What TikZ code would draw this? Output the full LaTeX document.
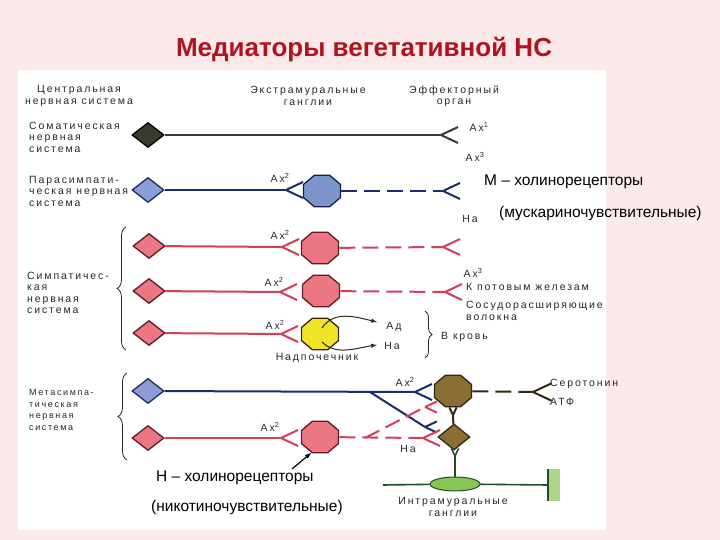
\documentclass[tikz,border=0pt]{standalone}
\usepackage{fontspec}
\setmainfont{Liberation Sans}
\newfontfamily\labfont[LetterSpace=18]{Liberation Sans}
\usepackage{xcolor}
\usetikzlibrary{shapes.geometric,decorations.pathreplacing,positioning}

\definecolor{pinkbg}{RGB}{252,234,234}
\definecolor{titred}{RGB}{176,18,30}
\definecolor{txt}{RGB}{40,40,40}
\definecolor{somc}{RGB}{58,58,46}
\definecolor{navyc}{RGB}{28,44,110}
\definecolor{bluec}{RGB}{140,156,212}
\definecolor{blueg}{RGB}{124,150,204}
\definecolor{redc}{RGB}{214,62,92}
\definecolor{pinkc}{RGB}{236,118,130}
\definecolor{redd}{RGB}{96,28,32}
\definecolor{yelc}{RGB}{240,228,40}
\definecolor{brownc}{RGB}{138,110,52}
\definecolor{brownd}{RGB}{52,38,20}
\definecolor{dgreen}{RGB}{30,80,40}
\definecolor{lgreen}{RGB}{136,196,86}

\begin{document}
\begin{tikzpicture}[x=1pt,y=-1pt,
	every node/.style={inner sep=0pt},
	lab/.style={font=\labfont\fontsize{10.5}{11.5}\selectfont, text=txt},
	big/.style={font=\fontsize{15.5}{18}\selectfont, text=black},
	cell/.style={diamond, line width=1.3pt, minimum width=32pt, minimum height=25pt},
	gang/.style={regular polygon, regular polygon sides=8, minimum size=34pt,
		xscale=1.18, transform shape, line width=1.3pt},
	bl/.style={color=somc, line width=2pt},
	nl/.style={color=navyc, line width=2pt},
	rl/.style={color=redc, line width=2pt},
	bk/.style={color=brownd, line width=2pt},
	gl/.style={color=dgreen, line width=1.6pt},
	dsh/.style={dash pattern=on 16pt off 7pt},
	brc/.style={decorate, decoration={brace, amplitude=9pt}, color=txt, line width=0.8pt},
	fork/.pic={\draw (0,0) -- (17,-8) (0,0) -- (17,8);}]

	\fill[pinkbg] (0,0) rectangle (720,540);
	\fill[white] (18,70) rectangle (606,530);
	\useasboundingbox (0,0) rectangle (720,540);

	\node[font=\bfseries\fontsize{26}{30}\selectfont, text=titred] (title) at (364,50) {Медиаторы вегетативной НС};

	% column heads
	\node[lab, align=center] (hc) at (79,96) {Центральная\\нервная система};
	\node[lab, align=center] (hg) at (308,96) {Экстрамуральные\\ганглии};
	\node[lab, align=center] (ho) at (454,96) {Эффекторный\\орган};

	% systems
	\node[lab, anchor=west, align=left] (ls) at (29,137) {Соматическая\\нервная\\система};
	\node[lab, anchor=west, align=left] (lp) at (29,191) {Парасимпати-\\ческая нервная\\система};
	\node[lab, anchor=west, align=left] (ly) at (27,293) {Симпатичес-\\кая\\нервная\\система};
	\node[lab, anchor=west, align=left, font=\labfont\fontsize{9}{11.5}\selectfont] (lm) at (29,410) {Метасимпа-\\тическая\\нервная\\система};
	\draw[brc] (126,350) -- (126,227);
	\draw[brc] (127,460) -- (127,373);

	\node[cell, fill=somc, draw=black] (cs) at (148,135) {};
	\node[cell, fill=bluec, draw=navyc] (cp) at (148,190) {};
	\node[cell, fill=pinkc, draw=redd] (c3) at (149,246) {};
	\node[cell, fill=pinkc, draw=redd] (c4) at (149,291) {};
	\node[cell, fill=pinkc, draw=redd] (c5) at (149,333) {};
	\node[cell, fill=bluec, draw=navyc] (c6) at (148,391) {};
	\node[cell, fill=pinkc, draw=redd] (c7) at (148,438) {};

	% ganglia
	\node[gang, fill=blueg, draw=navyc!70!black] (g2) at (322,191) {};
	\node[gang, fill=pinkc, draw=redd] (g3) at (320,248) {};
	\node[gang, fill=pinkc, draw=redd] (g4) at (321,291) {};
	\node[gang, fill=yelc, draw=brownd] (g5) at (320,334) {};
	\node[gang, fill=pinkc, draw=redd] (g7) at (320,437) {};
	\node[gang, fill=brownc, draw=brownd] (gm) at (453,391) {};
	\node[cell, fill=brownc, draw=brownd, minimum width=32pt, minimum height=26pt] (dm) at (454,437) {};
	\node[ellipse, fill=lgreen, draw=dgreen, line width=1pt, minimum width=50pt, minimum height=14pt] (im) at (455,484) {};
	\node[fill=lgreen!70, minimum width=12pt, minimum height=32pt] (ef) at (554,485) {};

	% fork points
	\coordinate (e1) at (441,135);
	\coordinate (a2) at (286,190);
	\coordinate (e2) at (443,191);
	\coordinate (a3) at (282,247);
	\coordinate (e3) at (443,247);
	\coordinate (a4) at (280,292);
	\coordinate (e4) at (445,292);
	\coordinate (a5) at (281,334);
	\coordinate (a6) at (415,392);
	\coordinate (b6) at (370,392);
	\coordinate (m6) at (425,427);
	\coordinate (a7) at (281,438);
	\coordinate (b7) at (365,438);
	\coordinate (e7) at (423,438);
	\coordinate (e8) at (425,407);
	\coordinate (em) at (533,392);
	\coordinate (y1) at (453,415);
	\coordinate (y2) at (455,456);
	\coordinate (il) at (383,485);
	\coordinate (ht) at (292,469);

	\draw[bl] (cs) -- (e1);
	\pic[bl] at (e1) {fork};

	\draw[nl] (cp) -- (a2);
	\pic[nl] at (a2) {fork};
	\draw[nl, dsh] (g2) -- (e2);
	\pic[nl] at (e2) {fork};

	\draw[rl] (c3) -- (a3);
	\pic[rl] at (a3) {fork};
	\draw[rl, dsh] (g3) -- (e3);
	\pic[rl] at (e3) {fork};

	\draw[rl] (c4) -- (a4);
	\pic[rl] at (a4) {fork};
	\draw[rl, dsh] (g4) -- (e4);
	\pic[rl] at (e4) {fork};

	\draw[rl] (c5) -- (a5);
	\pic[rl] at (a5) {fork};

	\draw[nl] (c6) -- (a6);
	\pic[nl] at (a6) {fork};
	\draw[nl] (b6) -- (m6);
	\pic[nl, scale=0.7] at (m6) {fork};

	\draw[rl] (c7) -- (a7);
	\pic[rl] at (a7) {fork};
	\draw[rl, dsh] (g7) -- (e7);
	\pic[rl] at (e7) {fork};
	\draw[rl, dsh] (b7) -- (e8);
	\pic[rl, scale=0.7] at (e8) {fork};

	\draw[bk, dsh] (gm) -- (em);
	\pic[bk, scale=1.1] at (em) {fork};
	\draw[bk] (y1) -- (dm);
	\pic[bk, rotate=90, scale=0.45] at (y1) {fork};
	\draw[gl] (im) -- (y2);
	\pic[gl, rotate=90, scale=0.45] at (y2) {fork};
	\draw[gl] (il) -- (im);
	\draw[gl] (im) -- (ef.west);
	\draw[dgreen, line width=2.4pt] (ef.north west) -- (ef.south west);

	% adrenal
	\draw[-latex, line width=1pt, brownd] (g5.center) ++(2,-6) .. controls (334,310) and (356,317) .. (377,322);
	\draw[-latex, line width=1pt, brownd] (g5.center) ++(2,8) .. controls (336,356) and (356,348) .. (377,345);
	\node[lab] (ad) at (394,327) {Ад};
	\node[lab] (na2) at (392,346) {На};
	\node[lab] (nad) at (317,358) {Надпочечник};
	\draw[brc, decoration={amplitude=7pt}] (425,311) -- (425,358);
	\node[lab, anchor=west] (vk) at (441,337) {В кровь};

	% labels
	\node[lab] (x1) at (479,127) {Ах\textsuperscript{1}};
	\node[lab] (x2) at (280,178) {Ах\textsuperscript{2}};
	\node[lab] (x3) at (475,157) {Ах\textsuperscript{3}};
	\node[lab] (na) at (470,219) {На};
	\node[lab] (x4) at (280,235) {Ах\textsuperscript{2}};
	\node[lab] (x5) at (274,282) {Ах\textsuperscript{2}};
	\node[lab] (x6) at (473,273) {Ах\textsuperscript{3}};
	\node[lab, anchor=west] (pot) at (466,287) {К потовым железам};
	\node[lab, anchor=west, align=left] (sos) at (466,311) {Сосудорасширяющие\\волокна};
	\node[lab] (x7) at (275,325) {Ах\textsuperscript{2}};
	\node[lab] (x8) at (405,382) {Ах\textsuperscript{2}};
	\node[lab] (x9) at (270,427) {Ах\textsuperscript{2}};
	\node[lab] (na3) at (408,449) {На};
	\node[lab, anchor=west] (ser) at (550,384) {Серотонин};
	\node[lab, anchor=west] (atf) at (550,402) {АТФ};
	\node[lab, align=center] (intr) at (453,507) {Интрамуральные\\ганглии};

	\node[big, anchor=west] (mh1) at (484,182) {М – холинорецепторы};
	\node[big, anchor=west] (mh2) at (499,213) {(мускариночувствительные)};
	\node[big, anchor=west] (hn1) at (156,478) {Н – холинорецепторы};
	\node[big, anchor=west] (hn2) at (151,507) {(никотиночувствительные)};
	\draw[-latex, line width=1.2pt] (ht) -- (g7.245);
\end{tikzpicture}
\end{document}
